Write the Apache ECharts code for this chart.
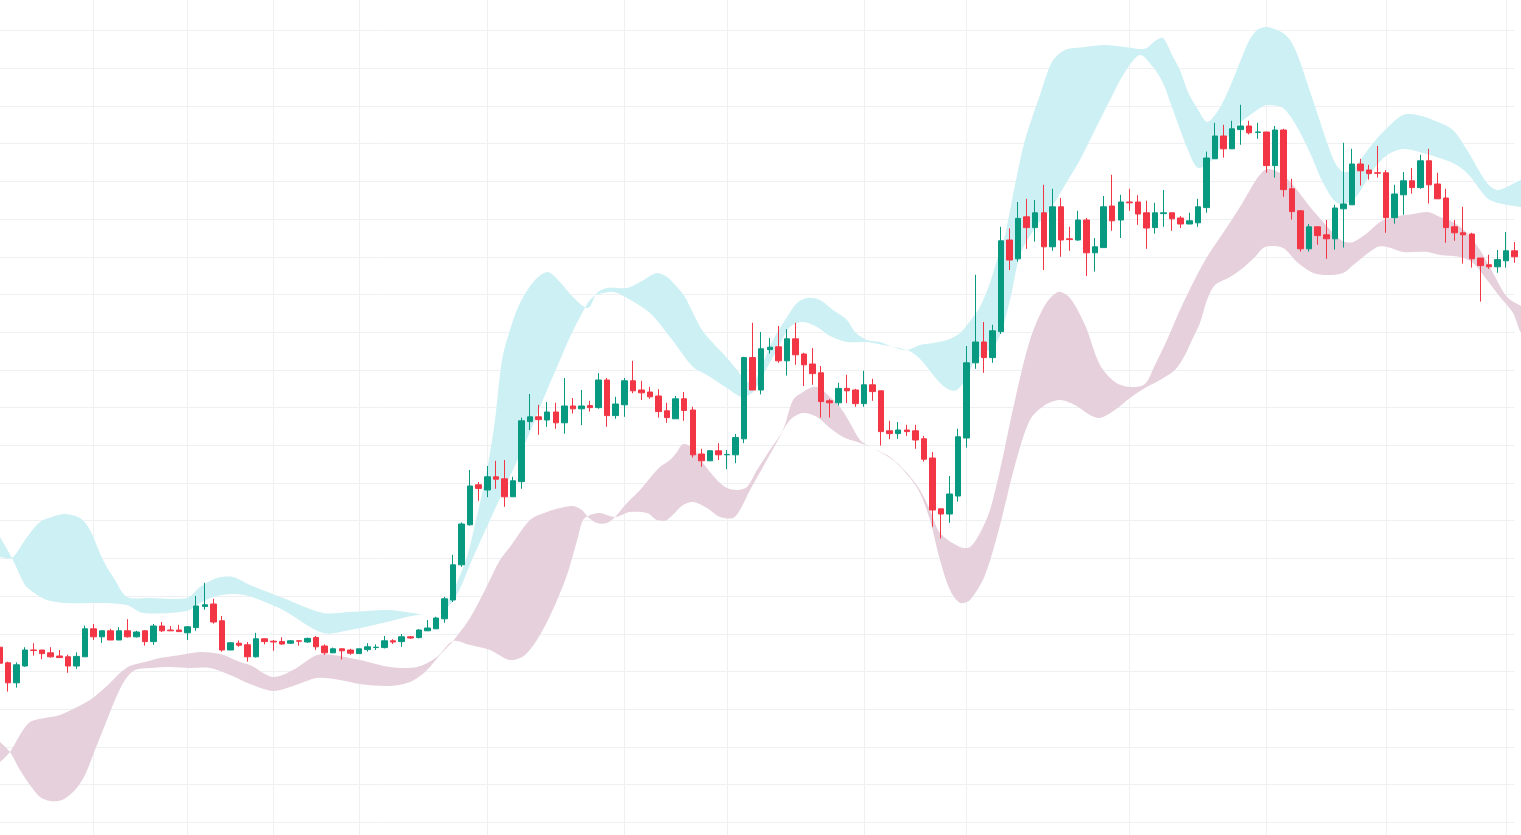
<!DOCTYPE html>
<html>
<head>
<meta charset="utf-8">
<title>K线</title>
<script src="https://cdn.jsdelivr.net/npm/echarts/dist/echarts.min.js"></script>
<style>
    html, body { margin: 0; padding: 0; background: #fff; }
    #chart { width: 1521px; height: 835px; }
</style>
</head>
<body>
<div id="chart"></div>
<script>
// [open, close, low, high]
const ohlc = [
    [53.2, 49.2, 48.5, 53.8], [49.3, 44.3, 42.1, 49.6], [44.3, 48.8, 43.1, 49.4], [48.5, 52.5, 48.3, 53.2],
    [52.5, 52.4, 51.1, 54.2], [52.5, 51.6, 50.2, 52.5], [51.8, 50.8, 50.6, 53.2], [51.0, 50.6, 50.6, 52.5],
    [50.8, 48.5, 46.8, 51.3], [48.5, 50.9, 47.8, 51.9], [50.8, 57.8, 50.8, 58.6], [57.8, 55.8, 55.0, 59.0],
    [55.8, 57.3, 54.3, 57.3], [57.3, 55.0, 55.0, 57.8], [55.0, 57.3, 55.0, 58.2], [57.3, 55.8, 55.6, 60.2],
    [55.8, 57.0, 55.6, 57.3], [57.3, 54.6, 53.6, 57.5], [54.6, 58.5, 53.8, 59.0], [58.5, 57.3, 57.0, 59.5],
    [57.5, 57.3, 57.3, 58.5], [57.5, 57.1, 57.1, 58.8], [56.8, 58.3, 55.0, 58.5], [58.1, 63.5, 57.3, 66.0],
    [63.4, 63.8, 62.6, 69.3], [64.0, 59.5, 59.1, 65.3], [59.8, 52.5, 52.1, 61.0], [52.5, 54.3, 52.5, 54.5],
    [54.2, 53.7, 53.3, 54.9], [53.8, 50.8, 49.6, 54.5], [50.8, 55.3, 50.6, 56.8], [55.3, 54.6, 53.9, 55.4],
    [54.7, 54.5, 52.3, 55.0], [54.6, 54.0, 53.8, 55.7], [54.2, 54.8, 54.0, 55.0], [54.8, 54.7, 53.6, 55.0],
    [54.5, 55.4, 54.3, 55.6], [55.6, 53.3, 52.5, 56.0], [53.5, 51.8, 51.3, 53.9], [51.8, 52.8, 51.7, 53.1],
    [52.8, 52.3, 50.1, 52.9], [52.5, 51.7, 51.3, 52.8], [51.6, 52.8, 51.6, 52.8], [52.6, 53.3, 52.1, 54.2],
    [53.1, 53.2, 52.5, 53.9], [53.1, 54.8, 52.9, 56.0], [54.8, 54.5, 54.0, 55.2], [54.6, 55.8, 53.3, 56.5],
    [55.8, 55.5, 55.3, 56.0], [55.6, 57.5, 55.4, 57.7], [57.3, 58.0, 57.3, 60.0], [57.8, 60.5, 57.8, 60.8],
    [60.3, 65.3, 59.3, 65.8], [65.0, 73.8, 64.5, 76.3], [73.8, 84.0, 73.3, 84.4], [83.8, 93.5, 83.6, 97.5],
    [93.8, 92.9, 89.8, 94.5], [92.5, 95.8, 90.7, 98.5], [95.8, 95.2, 92.8, 99.8], [95.3, 90.8, 88.3, 100.0],
    [90.8, 94.8, 90.8, 95.8], [94.6, 109.8, 92.8, 110.6], [109.6, 110.8, 107.5, 116.5], [110.8, 110.1, 106.3, 113.8],
    [110.0, 112.0, 108.3, 114.5], [112.0, 109.3, 107.8, 114.3], [109.3, 113.5, 106.6, 120.5], [113.5, 112.8, 111.6, 115.5],
    [112.8, 113.5, 108.7, 117.5], [113.6, 113.1, 112.1, 114.8], [113.1, 120.0, 112.8, 121.7], [120.0, 111.1, 108.3, 120.5],
    [111.1, 114.0, 110.3, 115.8], [113.8, 119.8, 110.8, 120.5], [119.8, 117.3, 116.7, 124.8], [117.5, 116.8, 115.0, 119.8],
    [117.0, 115.8, 115.3, 118.3], [116.0, 112.1, 110.6, 117.7], [112.3, 110.6, 109.3, 114.3], [110.3, 115.3, 110.3, 116.0],
    [115.3, 112.4, 109.8, 117.0], [112.5, 101.3, 100.6, 113.3], [101.5, 99.8, 98.3, 102.8], [99.8, 102.3, 99.8, 102.5],
    [102.3, 101.3, 100.0, 104.2], [101.3, 101.4, 97.7, 102.5], [101.3, 105.6, 99.2, 106.5], [105.3, 125.6, 104.2, 125.8],
    [125.6, 117.5, 117.5, 134.3], [117.5, 127.8, 116.4, 132.0], [127.6, 128.2, 126.6, 130.5], [128.3, 124.8, 124.3, 133.5],
    [124.8, 130.3, 121.1, 132.7], [130.3, 126.3, 123.8, 134.3], [126.5, 123.8, 118.5, 126.8], [124.0, 121.6, 118.8, 128.0],
    [121.8, 114.6, 110.6, 123.5], [114.8, 114.3, 110.6, 115.2], [114.3, 117.9, 113.6, 119.3], [117.9, 117.3, 114.2, 121.3],
    [117.5, 114.1, 113.3, 117.8], [114.1, 118.8, 113.3, 122.3], [118.8, 117.1, 114.8, 120.3], [117.3, 107.1, 103.6, 117.3],
    [107.3, 106.6, 105.2, 109.8], [106.6, 107.5, 105.3, 109.5], [107.5, 107.1, 106.0, 108.8], [107.3, 105.0, 102.8, 108.8],
    [105.3, 100.2, 99.6, 106.0], [100.5, 87.5, 83.3, 102.0], [87.8, 86.5, 80.4, 87.8], [86.5, 91.5, 84.3, 96.0],
    [91.0, 105.8, 89.6, 107.8], [105.5, 124.3, 103.1, 128.5], [124.3, 129.5, 122.8, 146.3], [129.5, 125.6, 121.8, 134.5],
    [125.6, 132.3, 124.3, 133.8], [132.1, 154.8, 131.5, 158.3], [155.0, 150.0, 147.5, 157.9], [150.3, 160.4, 149.6, 164.5],
    [160.8, 158.1, 152.8, 165.3], [158.1, 161.8, 154.6, 165.0], [161.8, 153.3, 147.5, 168.8], [153.3, 163.3, 152.3, 167.8],
    [163.3, 155.0, 150.8, 165.5], [155.3, 155.1, 152.3, 158.3], [155.0, 160.0, 154.8, 162.3], [160.0, 151.8, 146.0, 160.5],
    [151.8, 153.3, 147.1, 155.5], [153.1, 163.3, 153.1, 166.0], [163.5, 159.8, 157.3, 171.3], [160.0, 164.5, 155.5, 166.3],
    [164.5, 164.3, 162.3, 167.8], [164.5, 161.5, 158.8, 166.2], [161.8, 158.0, 152.8, 164.8], [158.1, 161.8, 156.6, 164.3],
    [161.6, 161.8, 158.3, 167.5], [161.8, 160.3, 157.3, 161.8], [160.5, 159.0, 158.0, 161.0], [159.0, 159.8, 159.0, 161.8],
    [159.3, 163.3, 158.3, 165.3], [163.1, 175.5, 161.8, 177.1], [175.3, 181.0, 175.3, 184.3], [181.0, 177.8, 175.6, 183.8],
    [177.8, 182.8, 177.8, 184.8], [182.6, 183.5, 178.8, 188.8], [183.5, 181.8, 181.4, 184.8], [181.9, 182.0, 180.3, 184.3],
    [182.0, 173.6, 171.8, 182.0], [173.6, 182.5, 170.6, 183.5], [182.5, 167.6, 165.8, 182.8], [167.8, 162.1, 160.1, 170.3],
    [162.3, 152.8, 152.1, 162.5], [152.8, 158.3, 152.1, 159.0], [158.3, 156.1, 153.8, 158.3], [156.3, 155.3, 150.3, 160.0],
    [155.3, 163.0, 152.6, 163.8], [162.8, 164.0, 153.1, 179.3], [163.8, 174.0, 163.8, 177.8], [174.0, 172.3, 168.6, 175.3],
    [172.5, 171.6, 170.1, 173.8], [171.8, 171.7, 170.6, 178.5], [171.8, 160.6, 156.8, 172.5], [160.6, 166.5, 159.1, 168.8],
    [166.3, 169.8, 161.3, 172.0], [169.8, 168.1, 166.6, 173.0], [168.1, 174.8, 167.8, 176.3], [174.8, 168.8, 164.1, 177.8],
    [169.0, 165.3, 165.3, 171.8], [165.5, 158.1, 154.3, 167.8], [158.3, 156.8, 154.8, 160.0], [156.8, 156.3, 149.1, 163.3],
    [156.5, 150.3, 148.1, 156.8], [150.5, 148.6, 139.6, 150.5], [148.8, 148.3, 147.8, 151.3], [148.3, 150.1, 146.8, 152.5],
    [149.8, 152.3, 148.1, 157.0], [152.3, 150.8, 149.3, 154.5]
];

// band edges, [bar index, value]
const cyanUpper = [
    [-0.97, 76], [0.08, 75.75], [1.48, 75.5], [3.0, 80], [4.75, 84.5], [6.5, 86], [7.67, 86.5], [9.42, 85.5],
    [10.59, 82.5], [12.11, 75], [13.51, 70], [14.91, 65.75], [17.6, 65.5], [21.92, 65.5], [23.44, 68.25],
    [25.43, 70.5], [27.29, 70.75], [29.28, 68.75], [33.14, 65.5], [37.81, 61.75], [40.96, 62], [45.63, 62.5],
    [48.32, 61.75], [51.12, 61.25], [52.64, 65.75], [54.51, 75], [55.68, 85], [56.97, 97.5], [57.9, 110],
    [58.72, 125], [59.65, 132.5], [60.82, 139.25], [62.57, 145], [64.09, 147], [65.49, 144.5], [67.01, 140.75],
    [68.76, 138], [69.81, 141.75], [70.98, 143], [73.32, 143], [74.84, 144.5], [76.82, 146.75], [77.99, 145.75],
    [79.16, 143.25], [80.09, 140.75], [81.03, 136.75], [82.08, 132.5], [83.36, 129.25], [85.0, 125.5],
    [86.17, 122.5], [87.1, 120], [88.04, 119.25], [88.85, 122.5], [90.37, 130], [92.01, 135.75], [93.18, 139.25],
    [94.35, 140.5], [95.86, 140], [97.38, 137.5], [99.02, 135], [99.95, 132], [101.35, 130], [102.87, 129.5],
    [104.39, 128.25], [106.03, 127.5], [107.54, 128.75], [109.06, 129.25], [110.7, 130], [112.22, 131.75],
    [113.74, 135.75], [114.55, 138.25], [115.72, 144.25], [116.54, 150], [117.47, 156.25], [118.64, 168.75],
    [119.81, 180], [121.56, 191.25], [122.96, 199.5], [124.48, 202.5], [126.82, 203.25], [129.15, 203.75],
    [131.49, 203.25], [133.24, 202.75], [134.06, 203], [134.99, 204.75], [135.93, 205.5], [137.1, 200.75],
    [137.91, 197.5], [138.85, 192], [139.9, 188], [141.07, 184.5], [142.0, 186.25], [142.94, 189.5],
    [143.99, 194.5], [144.92, 199.5], [145.86, 204.25], [146.91, 207.5], [148.08, 208.25], [149.95, 206.75],
    [151.0, 204.25], [151.95, 199.5], [152.77, 194.25], [153.94, 186.75], [155.11, 179.25], [156.04, 174.25],
    [156.98, 172], [158.03, 172.5], [158.96, 175], [160.48, 179.25], [162.1, 183], [163.97, 186.25],
    [165.6, 186.25], [167.47, 185], [169.8, 182.5], [171.44, 177.5], [173.78, 169.25], [175.06, 167.5],
    [177.75, 170], [179.03, 170.5]
];
const cyanLower = [
    [-0.97, 85], [0.08, 80.75], [1.48, 75.5], [3.0, 68.75], [3.93, 67], [5.57, 65], [7.9, 64.25], [11.76, 64.25],
    [14.91, 63.75], [16.78, 61.75], [21.92, 62.25], [23.44, 64.25], [24.96, 65.75], [26.94, 66.5], [28.7, 66.25],
    [30.45, 65], [33.14, 62.5], [37.81, 56.75], [40.96, 57.5], [44.82, 59.25], [48.79, 61.25], [51.12, 61.25],
    [53.23, 65.5], [55.21, 75], [57.31, 85], [60.0, 97.5], [61.99, 107], [63.74, 116.25], [65.49, 125],
    [66.66, 130.75], [67.83, 135.75], [69.35, 140.75], [71.68, 142], [73.32, 140.5], [76.0, 136.75],
    [78.34, 130.75], [81.03, 123.25], [82.66, 121.25], [85.0, 118], [86.75, 115.75], [88.04, 117], [89.2, 121.25],
    [90.84, 127.5], [92.36, 133.25], [93.88, 134.5], [95.51, 133.25], [97.03, 131], [99.02, 129.5],
    [101.35, 129.5], [103.22, 128.75], [106.03, 127.5], [107.31, 125.75], [108.36, 123.25], [109.88, 119.25],
    [111.05, 117.5], [111.87, 117.5], [113.03, 120.75], [113.97, 125], [114.9, 126.25], [116.66, 130],
    [118.06, 140], [119.23, 151.25], [120.98, 158], [122.73, 162.5], [124.48, 168.75], [126.23, 175],
    [127.98, 182.5], [129.74, 190], [131.49, 197], [133.24, 201.25], [134.76, 198.25], [135.93, 194.25],
    [137.1, 187.5], [138.85, 177.5], [140.02, 173], [141.65, 175], [142.94, 179.25], [144.92, 184.25],
    [146.91, 187.5], [148.08, 188.75], [149.95, 188], [151.58, 183.25], [153.12, 176.75], [154.64, 169.25],
    [156.28, 164.25], [158.15, 165], [160.48, 172.5], [162.1, 176.25], [163.97, 177.75], [166.3, 176.75],
    [169.8, 174.25], [171.44, 171.75], [173.78, 165.5], [175.06, 164.25], [177.75, 163.25], [179.03, 163.25]
];
const pinkUpper = [
    [-0.97, 31.75], [0.08, 29.5], [1.25, 27], [2.41, 22.5], [3.58, 18.75], [4.75, 15.75], [5.92, 14.75], [7.32, 15],
    [8.84, 17.5], [10.01, 21.25], [11.17, 27.5], [12.34, 33.75], [13.51, 40], [14.68, 45], [15.85, 47.5],
    [17.6, 48], [19.94, 48.25], [22.27, 48], [24.61, 48], [26.94, 46.25], [29.28, 44], [31.97, 42.25],
    [34.3, 43.5], [37.11, 45.5], [39.79, 45], [42.13, 44], [45.63, 43.5], [47.97, 44.5], [49.72, 47],
    [51.47, 51.25], [52.99, 54.75], [54.98, 60.5], [56.73, 67.5], [58.48, 75], [59.65, 78.25], [61.99, 85],
    [63.97, 87], [65.49, 88], [67.01, 88.5], [68.06, 87.5], [68.76, 85.75], [69.81, 84.25], [70.98, 84.25],
    [71.92, 85.75], [73.32, 89.25], [74.84, 92.5], [76.0, 95.5], [77.17, 98.25], [78.34, 100], [79.16, 102],
    [79.86, 104], [81.03, 103], [82.2, 99.25], [83.83, 95], [85.0, 93], [86.17, 92.5], [87.33, 93.25],
    [88.5, 97.5], [90.02, 102.5], [91.54, 107.5], [92.71, 115], [93.88, 117], [95.05, 118.25], [95.86, 118],
    [97.03, 115.75], [98.2, 113.25], [99.37, 109.25], [100.54, 105], [101.7, 103.25], [104.04, 100.75],
    [106.03, 96.75], [107.54, 92.5], [108.71, 87.5], [109.88, 81.75], [112.22, 78.25], [113.39, 78.25],
    [114.55, 81.75], [115.72, 87.5], [116.89, 97.5], [118.64, 115], [120.39, 130], [122.15, 138.75],
    [123.66, 142], [125.06, 140.5], [126.82, 133.75], [128.57, 123.75], [130.32, 119.5], [132.07, 118.25],
    [133.82, 119], [134.99, 123.75], [136.4, 130], [137.91, 137.5], [139.43, 144.25], [141.07, 150.75],
    [143.41, 158.25], [144.92, 163.25], [146.09, 167.5], [147.03, 170.75], [148.08, 172.75], [149.6, 171.75],
    [151.12, 168.75], [153.12, 163.25], [154.64, 159.5], [156.28, 155.75], [157.21, 154.5], [158.15, 154.5],
    [159.78, 156.75], [161.28, 159.5], [162.8, 160.75], [165.13, 161.5], [166.88, 162], [168.29, 160.75],
    [169.8, 159.5], [171.44, 156.75], [172.96, 152.5], [174.48, 146.75], [176.12, 140.75], [177.75, 138.5],
    [179.03, 137]
];
const pinkLower = [
    [-0.97, 22.25], [0.08, 24.5], [1.25, 27], [2.41, 31.25], [3.58, 34.5], [5.33, 35.5], [7.09, 36.25], [8.84, 38],
    [10.59, 40], [11.76, 42], [12.93, 44.25], [14.09, 46.75], [15.26, 48.5], [17.01, 49.5], [18.77, 50.5],
    [21.1, 51.25], [23.44, 52], [25.78, 51.5], [28.11, 49.5], [29.28, 48.75], [31.97, 45.75], [34.3, 47.5],
    [37.11, 51.25], [38.97, 51.25], [42.13, 50], [45.63, 48.25], [48.79, 48.25], [51.12, 50.75], [52.99, 54.75],
    [54.98, 53.75], [57.31, 52.5], [59.65, 50], [61.4, 51.25], [63.15, 56.25], [64.91, 63.75], [66.31, 71.25],
    [67.01, 76.25], [67.6, 80.75], [68.18, 85], [69.0, 86.25], [70.16, 86.75], [71.92, 85.75], [73.67, 87],
    [75.66, 86.75], [76.82, 85], [77.99, 85], [79.86, 88.75], [81.03, 89.5], [82.66, 88], [84.18, 85.75],
    [85.7, 85.5], [86.52, 87.5], [87.69, 92.5], [89.2, 98.25], [90.84, 104.5], [92.36, 110], [93.88, 111.75],
    [95.51, 110.75], [97.03, 108], [98.55, 105.75], [100.54, 104.25], [101.7, 103.25], [104.39, 100],
    [106.38, 95.5], [107.54, 91.75], [108.71, 85], [109.88, 75], [111.05, 67.5], [112.22, 64.25], [113.39, 65],
    [115.14, 71.25], [116.89, 83.75], [118.64, 98.75], [120.39, 110], [122.15, 113.75], [123.9, 115],
    [125.65, 113.75], [127.4, 111.25], [128.57, 110.5], [130.32, 112.5], [132.07, 115.5], [133.82, 118],
    [135.58, 120], [137.33, 122.5], [138.5, 126.25], [139.31, 130], [140.25, 134.25], [141.07, 140], [142.0, 143.75],
    [143.76, 145.75], [145.27, 148], [146.68, 150.75], [147.84, 153.25], [149.95, 153], [151.58, 149.5],
    [153.47, 146.75], [155.11, 146.25], [156.98, 146.75], [158.15, 148.75], [160.95, 153.25], [162.1, 153.25],
    [163.97, 152], [166.77, 152], [168.29, 151.25], [170.62, 150.75], [172.14, 149.25], [173.78, 145],
    [175.3, 140.75], [176.82, 136.75], [177.75, 131.75], [179.03, 128.75]
];

// bars that carry a vertical grid line
const gridTicks = [11, 22, 32, 42, 57, 73, 85, 101, 113, 132, 148, 162, 176];
const categories = ohlc.map((_, i) => String(i));

const upColor = '#089981';
const downColor = '#f23645';
const gridColor = '#eff0f2';

function band(name, upper, lower, color) {
    return {
        name: name,
        type: 'custom',
        xAxisIndex: 1,
        yAxisIndex: 0,
        silent: true,
        z: 1,
        data: [0],
        renderItem: function (params, api) {
            const pts = upper.map(p => api.coord(p))
                .concat(lower.slice().reverse().map(p => api.coord(p)));
            return {
                type: 'polygon',
                shape: { points: pts, smooth: 0.3 },
                style: { fill: color }
            };
        }
    };
}

const chart = echarts.init(document.getElementById('chart'));
chart.setOption({
    animation: false,
    backgroundColor: '#ffffff',
    grid: {
        left: -0.67, right: 6.4, top: -7.1, bottom: -25,
        containLabel: false,
        outerBoundsMode: 'none'
    },
    xAxis: [
        {
            type: 'category',
            data: categories,
            boundaryGap: false,
            axisLine: { show: false },
            axisTick: { show: false },
            axisLabel: { show: false },
            splitLine: {
                show: true,
                interval: function (index) { return gridTicks.indexOf(index) >= 0; },
                lineStyle: { color: gridColor, width: 1 }
            }
        },
        { type: 'value', min: 0, max: ohlc.length - 1, show: false }
    ],
    yAxis: {
        type: 'value',
        min: 0,
        max: 216.775,
        interval: 9.425,
        axisLine: { show: false },
        axisTick: { show: false },
        axisLabel: { show: false },
        splitLine: { show: true, lineStyle: { color: gridColor, width: 1 } }
    },
    series: [
        band('upper', cyanUpper, cyanLower, '#ccf0f4'),
        band('lower', pinkUpper, pinkLower, '#e6d0dc'),
        {
            name: 'price',
            type: 'candlestick',
            data: ohlc,
            barWidth: 6,
            clip: false,
            z: 3,
            itemStyle: {
                color: upColor,
                color0: downColor,
                borderColor: upColor,
                borderColor0: downColor,
                borderWidth: 1
            }
        }
    ]
});
</script>
</body>
</html>
